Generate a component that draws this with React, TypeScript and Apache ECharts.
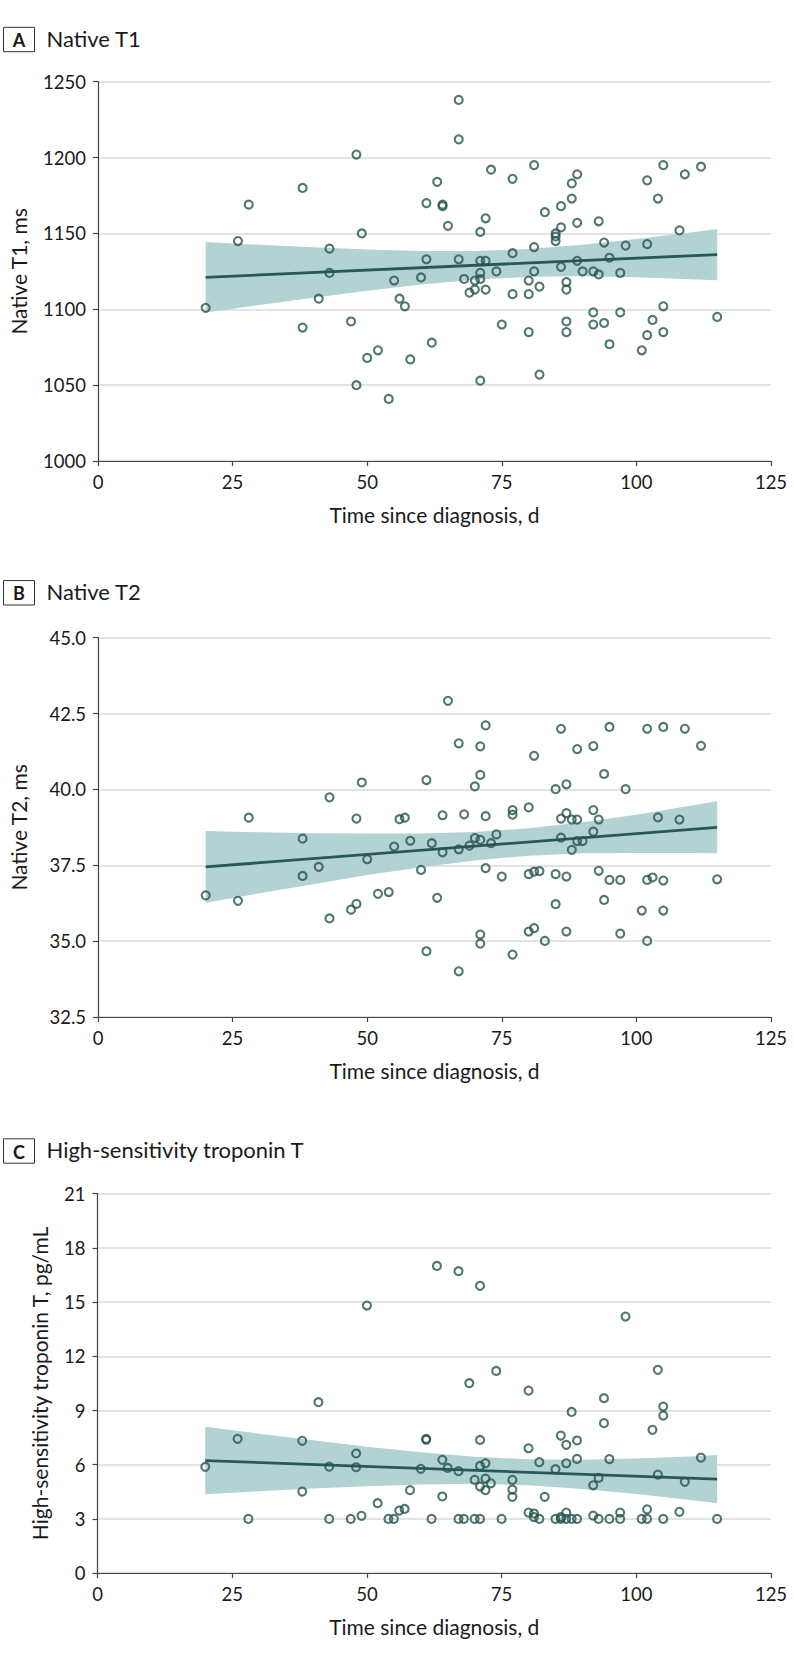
import React, { useEffect, useRef } from "react";
import * as echarts from "echarts";

// ---- Data ----
const pointsA: [number, number][] = [
  [20, 1101], [26, 1145], [28, 1169], [38, 1180], [38, 1088], [41, 1107], [43, 1140], [43, 1124],
  [47, 1092], [48, 1202], [48, 1050], [49, 1150], [50, 1068], [52, 1073], [54, 1041], [55, 1119],
  [56, 1107], [57, 1102], [58, 1067], [60, 1121], [61, 1170], [61, 1133], [62, 1078], [63, 1184],
  [64, 1169], [64, 1168], [65, 1155], [67, 1238], [67, 1212], [67, 1133], [68, 1120], [69, 1111],
  [70, 1119], [70, 1113], [71, 1151], [71, 1132], [71, 1124], [71, 1120], [71, 1053], [72, 1160],
  [72, 1132], [72, 1113], [73, 1192], [74, 1125], [75, 1090], [77, 1186], [77, 1137], [77, 1110],
  [80, 1119], [80, 1110], [80, 1085], [81, 1195], [81, 1141], [81, 1125], [82, 1115], [82, 1057],
  [83, 1164], [85, 1150], [85, 1148], [85, 1145], [86, 1168], [86, 1154], [86, 1128], [87, 1118],
  [87, 1113], [87, 1092], [87, 1085], [88, 1183], [88, 1173], [89, 1189], [89, 1157], [89, 1132],
  [90, 1125], [92, 1125], [92, 1098], [92, 1090], [93, 1158], [93, 1123], [94, 1144], [94, 1091],
  [95, 1134], [95, 1077], [97, 1124], [97, 1098], [98, 1142], [101, 1073], [102, 1185], [102, 1143],
  [102, 1083], [103, 1093], [104, 1173], [105, 1195], [105, 1102], [105, 1085], [108, 1152],
  [109, 1189], [112, 1194], [115, 1095],
];

const pointsB: [number, number][] = [
  [20, 36.51], [26, 36.33], [28, 39.07], [38, 38.38], [38, 37.15], [41, 37.45], [43, 39.74], [43, 35.75],
  [47, 36.04], [48, 36.23], [48, 39.04], [49, 40.23], [50, 37.7], [52, 36.56], [54, 36.62], [55, 38.12],
  [56, 39.02], [57, 39.07], [58, 38.31], [60, 37.35], [61, 40.31], [61, 34.67], [62, 38.23], [63, 36.43],
  [64, 39.15], [64, 37.93], [65, 42.92], [67, 41.52], [67, 38.03], [67, 34.01], [68, 39.18], [69, 38.15],
  [70, 40.1], [70, 38.4], [71, 41.42], [71, 40.48], [71, 38.34], [71, 35.22], [71, 34.92], [72, 42.11],
  [72, 39.12], [72, 37.41], [73, 38.23], [74, 38.52], [75, 37.13], [77, 39.32], [77, 39.17], [77, 34.56],
  [80, 39.41], [80, 37.21], [80, 35.32], [81, 41.11], [81, 35.43], [81, 37.29], [82, 37.31], [83, 35.01],
  [85, 40.01], [85, 37.21], [85, 36.22], [86, 42.0], [86, 39.04], [86, 38.41], [87, 40.17], [87, 39.22],
  [87, 37.13], [87, 35.32], [88, 39.01], [88, 38.01], [89, 41.33], [89, 39.01], [89, 38.3], [90, 38.3],
  [92, 41.43], [92, 39.32], [92, 38.61], [93, 39.01], [93, 37.32], [94, 40.51], [94, 36.36], [95, 42.06],
  [95, 37.02], [97, 37.02], [97, 35.25], [98, 40.01], [101, 36.01], [102, 42.0], [102, 37.02], [102, 35.01],
  [103, 37.1], [104, 39.08], [105, 42.06], [105, 37.0], [105, 36.01], [108, 39.01], [109, 42.0],
  [112, 41.44], [115, 37.04],
];

const pointsC: [number, number][] = [
  [20, 5.88], [26, 7.43], [28, 3.0], [38, 7.32], [38, 4.51], [41, 9.46], [43, 5.89], [43, 3.0],
  [47, 3.0], [48, 6.62], [48, 5.86], [49, 3.17], [50, 14.81], [52, 3.87], [54, 3.0], [55, 3.0],
  [56, 3.46], [57, 3.55], [58, 4.59], [60, 5.77], [61, 7.43], [61, 7.38], [62, 3.0], [63, 17.0],
  [64, 6.27], [64, 4.24], [65, 5.82], [67, 16.71], [67, 5.64], [67, 3.0], [68, 3.0], [69, 10.51],
  [70, 5.16], [70, 3.0], [71, 15.9], [71, 7.37], [71, 5.93], [71, 4.79], [71, 3.0], [72, 6.08],
  [72, 5.23], [72, 4.59], [73, 4.97], [74, 11.19], [75, 3.0], [77, 5.16], [77, 4.62], [77, 4.22],
  [80, 10.1], [80, 6.91], [80, 3.35], [81, 3.3], [81, 3.1], [82, 6.14], [82, 3.0], [83, 4.22],
  [85, 5.75], [85, 3.0], [86, 7.61], [86, 3.1], [86, 3.0], [87, 7.1], [87, 6.08], [87, 3.35],
  [87, 3.0], [88, 8.92], [88, 3.0], [89, 7.34], [89, 6.32], [89, 3.0], [92, 4.86], [92, 3.18],
  [93, 5.27], [93, 3.0], [94, 9.68], [94, 8.3], [95, 6.31], [95, 3.0], [97, 3.35], [97, 3.0],
  [98, 14.2], [101, 3.0], [102, 3.53], [102, 3.0], [103, 7.93], [104, 11.25], [104, 5.45],
  [105, 9.22], [105, 8.72], [105, 3.0], [108, 3.39], [109, 5.05], [112, 6.39], [115, 3.0],
];

// Confidence band (read at these x positions)
const bandX = [20, 30, 40, 50, 60, 70, 80, 90, 100, 110, 115];
const bandLowA = [1097.9, 1102.9, 1107.7, 1112.2, 1116.3, 1119.5, 1121.4, 1121.8, 1121.1, 1119.9, 1119.2];
const bandHighA = [1144.3, 1142.5, 1140.9, 1139.4, 1138.5, 1138.5, 1139.8, 1142.6, 1146.3, 1150.7, 1153.0];
const bandLowB = [36.27, 36.58, 36.88, 37.18, 37.44, 37.66, 37.82, 37.9, 37.91, 37.91, 37.9];
const bandHighB = [38.63, 38.59, 38.56, 38.55, 38.55, 38.6, 38.72, 38.92, 39.17, 39.46, 39.61];
const bandLowC = [4.36, 4.53, 4.68, 4.81, 4.91, 4.94, 4.86, 4.66, 4.38, 4.04, 3.87];
const bandHighC = [8.1, 7.72, 7.35, 6.99, 6.69, 6.44, 6.3, 6.28, 6.35, 6.46, 6.54];

// Fitted regression lines (end points)
const fitA: [number, number][] = [[20, 1121.1], [115, 1136.1]];
const fitB: [number, number][] = [[20, 37.45], [115, 38.75]];
const fitC: [number, number][] = [[20, 6.23], [115, 5.2]];

const panelLetters = ["A", "B", "C"];
const panelTitles = ["Native T1", "Native T2", "High-sensitivity troponin T"];
const yNames = ["Native T1, ms", "Native T2, ms", "High-sensitivity troponin T, pg/mL"];
const xName = "Time since diagnosis, d";
const yMins = [1000, 32.5, 0];
const yMaxs = [1250, 45, 21];
const yIntervals = [50, 2.5, 3];
const yDecimals = [0, 1, 0];
const xMin = 0;
const xMax = 125;
const xInterval = 25;

const FONT = "Lato, 'Noto Sans', sans-serif";
const MARK = "#24554f";
const LINE = "#2a5853";
const BAND = "#b3d2d3";
const TEXT = "#1a1a1a";
const AXIS = "#444";

export default function App() {
  const ref = useRef<HTMLDivElement>(null);
  useEffect(() => {
    if (!ref.current) return;
    const chart = echarts.init(ref.current, undefined, { renderer: "svg" });

    const gridTops = [81.7, 637.7, 1193.7];
    const titleCenters = [39.5, 592.8, 1151];
    const yNameGaps = [69, 69, 48];
    const points = [pointsA, pointsB, pointsC];
    const lows = [bandLowA, bandLowB, bandLowC];
    const highs = [bandHighA, bandHighB, bandHighC];
    const fits = [fitA, fitB, fitC];

    const grids: any[] = [];
    const xAxes: any[] = [];
    const yAxes: any[] = [];
    const series: any[] = [];
    const graphics: any[] = [];

    for (let i = 0; i < 3; i++) {
      grids.push({ left: 97.5, top: gridTops[i], width: 673.5, height: 379.4 });
      xAxes.push({
        type: "value",
        gridIndex: i,
        min: xMin,
        max: xMax,
        interval: xInterval,
        axisLine: { show: true, lineStyle: { color: AXIS, width: 1.2 } },
        axisTick: { show: true, length: 5, lineStyle: { color: AXIS, width: 1.2 } },
        axisLabel: { margin: 11, fontSize: 18.5, color: TEXT, fontFamily: FONT },
        splitLine: { show: false },
        name: xName,
        nameLocation: "middle",
        nameGap: 43,
        nameTextStyle: { fontSize: 21, color: TEXT, fontFamily: FONT },
      });
      const dec = yDecimals[i];
      yAxes.push({
        type: "value",
        gridIndex: i,
        min: yMins[i],
        max: yMaxs[i],
        interval: yIntervals[i],
        axisLine: { show: true, lineStyle: { color: AXIS, width: 1.2 } },
        axisTick: { show: true, length: 5, lineStyle: { color: AXIS, width: 1.2 } },
        axisLabel: {
          margin: 12,
          fontSize: 18.5,
          color: TEXT,
          fontFamily: FONT,
          formatter: (v: number) => v.toFixed(dec),
        },
        splitLine: { show: true, lineStyle: { color: "#dadada", width: 1.5 } },
        name: yNames[i],
        nameLocation: "middle",
        nameGap: yNameGaps[i],
        nameTextStyle: { fontSize: 21, color: TEXT, fontFamily: FONT },
      });

      const low = lows[i];
      const high = highs[i];
      series.push({
        type: "custom",
        xAxisIndex: i,
        yAxisIndex: i,
        silent: true,
        data: [[bandX[0], low[0]]],
        z: 1,
        renderItem: (_params: any, api: any) => {
          const pts: number[][] = [];
          for (let k = 0; k < bandX.length; k++) pts.push(api.coord([bandX[k], high[k]]));
          for (let k = bandX.length - 1; k >= 0; k--) pts.push(api.coord([bandX[k], low[k]]));
          return { type: "polygon", shape: { points: pts }, style: { fill: BAND } };
        },
      });
      series.push({
        type: "line",
        xAxisIndex: i,
        yAxisIndex: i,
        symbol: "none",
        silent: true,
        lineStyle: { color: LINE, width: 2.8 },
        data: fits[i],
        z: 3,
      });
      series.push({
        type: "scatter",
        xAxisIndex: i,
        yAxisIndex: i,
        symbol: "circle",
        symbolSize: 8,
        itemStyle: { color: "rgba(255,255,255,0)", borderColor: MARK, borderWidth: 2.1 },
        data: points[i],
        z: 4,
      });

      const cy = titleCenters[i];
      graphics.push({
        type: "rect",
        shape: { x: 3.5, y: cy - 12.2, width: 31, height: 24.4 },
        style: { fill: "#fff", stroke: "#333", lineWidth: 1 },
      });
      graphics.push({
        type: "text",
        x: 19,
        y: cy + 0.5,
        style: {
          text: panelLetters[i],
          fill: TEXT,
          font: `bold 18px ${FONT}`,
          textAlign: "center",
          align: "center",
          textVerticalAlign: "middle",
          verticalAlign: "middle",
        },
      });
      graphics.push({
        type: "text",
        x: 46.5,
        y: cy - 1.5,
        style: {
          text: panelTitles[i],
          fill: TEXT,
          font: `22px ${FONT}`,
          textAlign: "left",
          align: "left",
          textVerticalAlign: "middle",
          verticalAlign: "middle",
        },
      });
    }

    chart.setOption({
      animation: false,
      backgroundColor: "#fff",
      textStyle: { fontFamily: FONT },
      grid: grids,
      xAxis: xAxes,
      yAxis: yAxes,
      series,
      graphic: graphics,
    });
    return () => chart.dispose();
  }, []);

  return (
    <div
      ref={ref}
      style={{ position: "absolute", left: 0, top: 0, width: 794, height: 1658, background: "#fff" }}
    />
  );
}
